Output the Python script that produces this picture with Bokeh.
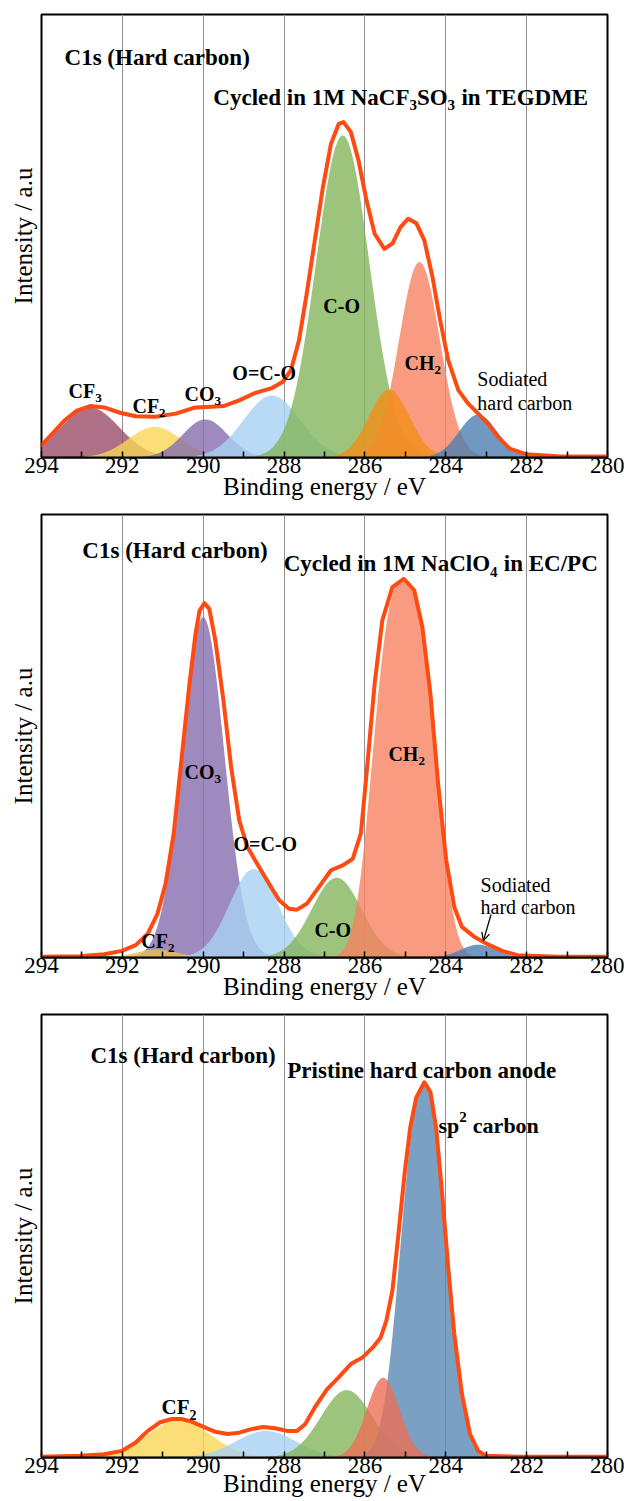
import numpy as np
from bokeh.plotting import figure
from bokeh.layouts import column
from bokeh.models import Range1d, FixedTicker, Arrow, OpenHead
from bokeh.core.properties import value
from bokeh.embed import file_html
from bokeh.resources import INLINE

FONT = "Liberation Serif"

# ---------------- data ----------------
x_ticks = [294, 292, 290, 288, 286, 284, 282, 280]
x_minor = [293, 291, 289, 287, 285, 283, 281]
grid_at = [292, 290, 288, 286, 284, 282]

# Panel 1: cycled in NaCF3SO3 / TEGDME  (deconvoluted components)
p1_names = ["CF3", "CF2", "CO3", "O=C-O", "C-O", "CH2", "unlabelled", "Sodiated hard carbon"]
p1_center = [292.8, 291.2, 289.95, 288.3, 286.55, 284.65, 285.4, 283.2]
p1_height = [0.113, 0.069, 0.086, 0.14, 0.727, 0.441, 0.153, 0.097]
p1_fwhm = [1.7, 1.53, 1.3, 1.65, 1.55, 1.18, 1.18, 1.1]
p1_shape = [2, 2, 2, 2, 2, 2, 2, 2]
p1_env_x = [294.0, 293.73, 293.44, 293.14, 292.8, 292.45, 292.06, 291.67, 291.18, 290.68,
            290.19, 289.9, 289.5, 289.11, 288.71, 288.32, 288.03, 287.83, 287.63, 287.44,
            287.24, 287.04, 286.84, 286.65, 286.53, 286.35, 286.16, 285.96, 285.76, 285.52,
            285.32, 285.12, 284.93, 284.73, 284.53, 284.33, 284.14, 283.94, 283.69, 283.45,
            283.2, 282.96, 282.71, 282.42, 282.02, 281.23, 280.0]
p1_env_y = [0.028, 0.054, 0.083, 0.105, 0.116, 0.113, 0.101, 0.093, 0.092, 0.099,
            0.113, 0.114, 0.116, 0.129, 0.146, 0.156, 0.171, 0.197, 0.265, 0.37,
            0.49, 0.61, 0.708, 0.753, 0.757, 0.735, 0.671, 0.58, 0.505, 0.471,
            0.483, 0.52, 0.539, 0.529, 0.49, 0.408, 0.31, 0.22, 0.152, 0.122,
            0.099, 0.077, 0.047, 0.02, 0.0075, 0.003, 0.002]

# Panel 2: cycled in NaClO4 / EC:PC
p2_names = ["CO3", "CF2", "O=C-O", "C-O", "CH2", "Sodiated hard carbon"]
p2_center = [290.0, 291.15, 288.75, 286.7, 285.03, 283.2]
p2_height = [0.768, 0.018, 0.2, 0.18, 0.851, 0.029]
p2_fwhm = [1.22, 1.2, 1.4, 1.45, 1.62, 1.0]
p2_shape = [2, 2, 2, 2, 2.8, 2]
p2_env_x = [294.0, 293.05, 292.45, 292.01, 291.67, 291.37, 291.13, 290.93, 290.73, 290.54,
            290.34, 290.19, 290.09, 289.97, 289.85, 289.7, 289.5, 289.31, 289.11, 288.91,
            288.67, 288.42, 288.12, 287.88, 287.68, 287.43, 287.14, 286.84, 286.55, 286.3,
            286.1, 285.96, 285.76, 285.57, 285.32, 285.04, 284.78, 284.58, 284.38, 284.19,
            283.99, 283.79, 283.6, 283.3, 283.01, 282.61, 282.22, 281.23, 280.0]
p2_env_y = [0.0015, 0.003, 0.0075, 0.015, 0.028, 0.054, 0.099, 0.167, 0.28, 0.445,
            0.618, 0.731, 0.783, 0.8, 0.787, 0.716, 0.58, 0.43, 0.31, 0.25,
            0.212, 0.174, 0.129, 0.11, 0.108, 0.122, 0.159, 0.197, 0.208, 0.223,
            0.28, 0.415, 0.618, 0.761, 0.836, 0.855, 0.829, 0.746, 0.595, 0.392,
            0.22, 0.114, 0.069, 0.047, 0.032, 0.015, 0.005, 0.0015, 0.0015]

# Panel 3: pristine hard carbon anode
p3_names = ["CF2", "O=C-O", "C-O", "sp2 carbon", "C-H"]
p3_center = [290.6, 288.45, 286.45, 284.55, 285.55]
p3_height = [0.084, 0.06, 0.152, 0.838, 0.18]
p3_fwhm = [1.85, 1.75, 1.5, 1.25, 0.95]
p3_shape = [2, 2, 2, 2.3, 2]
p3_env_x = [294.0, 293.05, 292.45, 292.01, 291.67, 291.37, 291.08, 290.78, 290.54, 290.29,
            289.99, 289.7, 289.4, 289.11, 288.81, 288.52, 288.22, 287.93, 287.68, 287.48,
            287.24, 286.94, 286.65, 286.35, 286.06, 285.81, 285.61, 285.47, 285.32, 285.17,
            285.02, 284.88, 284.73, 284.53, 284.38, 284.24, 284.09, 283.94, 283.79, 283.6,
            283.4, 283.2, 283.01, 282.22, 280.0]
p3_env_y = [0.0015, 0.004, 0.0075, 0.015, 0.034, 0.06, 0.079, 0.087, 0.087, 0.081,
            0.069, 0.058, 0.053, 0.056, 0.064, 0.069, 0.066, 0.06, 0.06, 0.075,
            0.113, 0.154, 0.181, 0.211, 0.226, 0.248, 0.271, 0.309, 0.377, 0.505,
            0.64, 0.745, 0.813, 0.847, 0.825, 0.745, 0.595, 0.429, 0.279, 0.143,
            0.053, 0.015, 0.004, 0.0015, 0.0015]

# ---------------- styles ----------------
p1_colors = ["#9c4c6a", "#f9d656", "#866dab", "#a7d1f3", "#83b55b", "#f68260", "#f28e18", "#4c7eb0"]
p2_colors = ["#866dab", "#e9c050", "#a7d1f3", "#83b55b", "#f68260", "#4c7eb0"]
p3_colors = ["#f9d656", "#a7d1f3", "#83b55b", "#5988b5", "#ec6f56"]
ENV_COLOR = "#ff4a12"
FILL_ALPHA = 0.8

BOLD_W = {' ': 250, '(': 333, ')': 333, '-': 333, '/': 278, '=': 570, '1': 500, '2': 500,
          '3': 500, '4': 500, 'A': 722, 'C': 722, 'D': 722, 'E': 667, 'F': 611, 'G': 778,
          'H': 778, 'I': 389, 'M': 944, 'N': 722, 'O': 778, 'P': 611, 'S': 556, 'T': 667,
          'a': 500, 'b': 556, 'c': 444, 'd': 556, 'e': 444, 'h': 556, 'i': 278, 'l': 278,
          'n': 556, 'o': 500, 'p': 556, 'r': 444, 's': 389, 't': 333, 'y': 500}

X = np.linspace(294, 280, 1401)


def component(c, h, f, s):
    return h * np.exp(-np.log(2) * np.abs(2 * (X - c) / f) ** s)


def tw(txt, fs):
    return sum(BOLD_W.get(ch, 500) for ch in txt) / 1000.0 * fs


def rich(p, x, y, parts, size, bold=True):
    off = 0.0
    for txt, kind in parts:
        if kind == "n":
            fs, dy = size, 0
        elif kind == "sub":
            fs, dy = round(size * 0.66), round(size * 0.36)
        else:
            fs, dy = round(size * 0.66), -round(size * 0.42)
        stripped = txt.lstrip(" ")
        off += tw(txt[:len(txt) - len(stripped)], size) * 1.1
        p.text(x=[x], y=[y], text=[stripped], x_offset=off, y_offset=dy,
               text_font=value(FONT), text_font_size=f"{fs}px",
               text_font_style="bold" if bold else "normal",
               text_align="left", text_baseline="alphabetic", text_color="black")
        off += tw(stripped, fs)


def make_panel(height, top, bottom, label_standoff):
    p = figure(width=624, height=height, x_range=Range1d(294, 280), y_range=Range1d(0, 1),
               output_backend="svg", toolbar_location=None, tools="",
               min_border_left=41, min_border_right=17, min_border_top=top,
               min_border_bottom=bottom,
               x_axis_label="Binding energy / eV", y_axis_label="Intensity / a.u")
    p.outline_line_color = "black"
    p.outline_line_width = 2
    p.outline_line_alpha = 1.0
    p.background_fill_color = "white"
    p.border_fill_color = "white"
    p.ygrid.visible = False
    p.xgrid.ticker = FixedTicker(ticks=grid_at)
    p.xgrid.grid_line_color = "#8f8f8f"
    p.xgrid.grid_line_width = 1

    xa = p.xaxis[0]
    xa.ticker = FixedTicker(ticks=x_ticks, minor_ticks=x_minor)
    xa.axis_line_color = "black"
    xa.axis_line_width = 2
    xa.major_tick_in = 6
    xa.major_tick_out = 0
    xa.minor_tick_in = 6
    xa.minor_tick_out = 0
    xa.major_tick_line_color = "black"
    xa.minor_tick_line_color = "black"
    xa.major_tick_line_width = 1.5
    xa.minor_tick_line_width = 1.5
    xa.major_label_text_font = FONT
    xa.major_label_text_font_size = "23px"
    xa.major_label_text_color = "black"
    xa.major_label_standoff = 0
    xa.axis_label_text_font = FONT
    xa.axis_label_text_font_size = "25px"
    xa.axis_label_text_font_style = "normal"
    xa.axis_label_text_color = "black"
    xa.axis_label_standoff = label_standoff

    ya = p.yaxis[0]
    ya.ticker = FixedTicker(ticks=[])
    ya.axis_line_color = None
    ya.major_tick_line_color = None
    ya.minor_tick_line_color = None
    ya.major_tick_out = 0
    ya.minor_tick_out = 0
    ya.major_label_standoff = 0
    ya.major_label_text_font_size = "0px"
    ya.axis_label_text_font = FONT
    ya.axis_label_text_font_size = "25px"
    ya.axis_label_text_font_style = "normal"
    ya.axis_label_text_color = "black"
    ya.axis_label_standoff = 5
    return p


def draw(p, centers, heights, fwhms, shapes, colors, env_x, env_y):
    zero = np.zeros_like(X)
    for c, h, f, s, col in zip(centers, heights, fwhms, shapes, colors):
        p.varea(x=X, y1=zero, y2=component(c, h, f, s), fill_color=col, fill_alpha=FILL_ALPHA)
    p.line(env_x, env_y, line_color=ENV_COLOR, line_width=4, line_join="round", line_cap="round")


# ---------------- panel 1 ----------------
p1 = make_panel(513, 14, 56, -3)
draw(p1, p1_center, p1_height, p1_fwhm, p1_shape, p1_colors, p1_env_x, p1_env_y)
rich(p1, 293.43, 0.903, [("C1s (Hard carbon)", "n")], 23)
rich(p1, 289.75, 0.813, [("Cycled in 1M NaCF", "n"), ("3", "sub"), ("SO", "n"), ("3", "sub"),
                         (" in TEGDME", "n")], 23)
rich(p1, 293.33, 0.151, [("CF", "n"), ("3", "sub")], 20)
rich(p1, 291.75, 0.117, [("CF", "n"), ("2", "sub")], 20)
rich(p1, 290.46, 0.144, [("CO", "n"), ("3", "sub")], 20)
rich(p1, 289.28, 0.19, [("O=C-O", "n")], 20)
rich(p1, 287.03, 0.343, [("C-O", "n")], 20)
rich(p1, 285.02, 0.214, [("CH", "n"), ("2", "sub")], 20)
rich(p1, 283.22, 0.178, [("Sodiated", "n")], 20, bold=False)
rich(p1, 283.22, 0.124, [("hard carbon", "n")], 20, bold=False)

# ---------------- panel 2 ----------------
p2 = make_panel(500, 1, 56, -3)
draw(p2, p2_center, p2_height, p2_fwhm, p2_shape, p2_colors, p2_env_x, p2_env_y)
rich(p2, 292.99, 0.919, [("C1s (Hard carbon)", "n")], 23)
rich(p2, 288.01, 0.889, [("Cycled in 1M NaClO", "n"), ("4", "sub"), (" in EC/PC", "n")], 23)
rich(p2, 290.46, 0.418, [("CO", "n"), ("3", "sub")], 20)
rich(p2, 289.25, 0.257, [("O=C-O", "n")], 20)
rich(p2, 287.25, 0.061, [("C-O", "n")], 20)
rich(p2, 285.42, 0.46, [("CH", "n"), ("2", "sub")], 20)
rich(p2, 291.53, 0.038, [("CF", "n"), ("2", "sub")], 20)
rich(p2, 283.14, 0.163, [("Sodiated", "n")], 20, bold=False)
rich(p2, 283.14, 0.113, [("hard carbon", "n")], 20, bold=False)
p2.add_layout(Arrow(end=OpenHead(size=8, line_color="black", line_width=1.3),
                    x_start=282.88, y_start=0.097, x_end=283.07, y_end=0.038,
                    line_color="black", line_width=1.3))

# ---------------- panel 3 ----------------
p3 = make_panel(488, 1, 44, -6)
draw(p3, p3_center, p3_height, p3_fwhm, p3_shape, p3_colors, p3_env_x, p3_env_y)
rich(p3, 292.79, 0.907, [("C1s (Hard carbon)", "n")], 23)
rich(p3, 287.92, 0.874, [("Pristine hard carbon anode", "n")], 23)
rich(p3, 284.18, 0.749, [("sp", "n"), ("2", "sup"), (" carbon", "n")], 22)
rich(p3, 291.03, 0.115, [("CF", "n"), ("2", "sub")], 21)

layout = column(p1, p2, p3)
open("out.html", "w").write(file_html(layout, INLINE, "C1s XPS"))
